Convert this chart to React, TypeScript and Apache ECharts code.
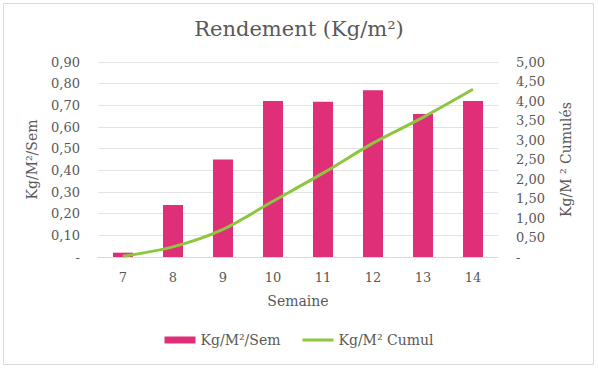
import React, { useEffect, useRef } from "react";
import * as echarts from "echarts";

const weeks = ["7", "8", "9", "10", "11", "12", "13", "14"];
const weekly = [0.02, 0.24, 0.45, 0.72, 0.717, 0.77, 0.66, 0.72];
const cumul = [0.02, 0.26, 0.71, 1.43, 2.15, 2.92, 3.58, 4.3];

const FONT = "'DejaVu Serif', Georgia, serif";
const TXT = "#595959";

const fmt = (v: number) => (v === 0 ? "-" : v.toFixed(2).replace(".", ","));

export default function App() {
  const ref = useRef<HTMLDivElement>(null);
  useEffect(() => {
    const chart = echarts.init(ref.current!, null, { renderer: "svg" });
    chart.setOption({
      animation: false,
      backgroundColor: "#ffffff",
      textStyle: { fontFamily: FONT, color: TXT },
      title: {
        text: "Rendement (Kg/m²)",
        left: "center",
        top: 13,
        textStyle: { fontFamily: FONT, fontSize: 21, fontWeight: "normal", color: TXT },
      },
      graphic: [
        {
          type: "rect",
          shape: { x: 3.5, y: 3.5, width: 590, height: 361 },
          style: { fill: "none", stroke: "#d9d9d9", lineWidth: 1 },
          silent: true,
        },
      ],
      grid: { left: 98, right: 100, top: 62, bottom: 112 },
      legend: {
        bottom: 17,
        left: "center",
        itemWidth: 31,
        itemHeight: 7,
        itemGap: 22,
        textStyle: { fontFamily: FONT, fontSize: 14, color: TXT },
        data: [
          { name: "Kg/M²/Sem", icon: "rect" },
          { name: "Kg/M² Cumul", icon: "path://M0,0H31V3H0Z" },
        ],
      },
      xAxis: {
        type: "category",
        data: weeks,
        name: "Semaine",
        nameLocation: "middle",
        nameGap: 37,
        nameTextStyle: { fontFamily: FONT, fontSize: 14, color: TXT },
        axisLine: { lineStyle: { color: "#d9d9d9" } },
        axisTick: { show: false },
        axisLabel: { fontFamily: FONT, fontSize: 13, color: TXT, margin: 14 },
      },
      yAxis: [
        {
          type: "value",
          min: 0,
          max: 0.9,
          interval: 0.1,
          name: "Kg/M²/Sem",
          nameLocation: "middle",
          nameGap: 59,
          nameTextStyle: { fontFamily: FONT, fontSize: 14, color: TXT },
          axisLine: { show: false },
          axisTick: { show: false },
          splitLine: { lineStyle: { color: "#e3e3e3" } },
          axisLabel: { fontFamily: FONT, fontSize: 13, color: TXT, margin: 18, formatter: fmt },
        },
        {
          type: "value",
          min: 0,
          max: 5,
          interval: 0.5,
          name: "Kg/M ² Cumulés",
          nameLocation: "middle",
          nameGap: 61,
          nameTextStyle: { fontFamily: FONT, fontSize: 14, color: TXT },
          axisLine: { show: false },
          axisTick: { show: false },
          splitLine: { show: false },
          axisLabel: { fontFamily: FONT, fontSize: 13, color: TXT, margin: 18, formatter: fmt },
        },
      ],
      series: [
        {
          name: "Kg/M²/Sem",
          type: "bar",
          yAxisIndex: 0,
          data: weekly,
          barWidth: 20,
          itemStyle: { color: "#DE2F78" },
        },
        {
          name: "Kg/M² Cumul",
          type: "line",
          yAxisIndex: 1,
          data: cumul,
          smooth: 0.3,
          symbol: "none",
          lineStyle: { color: "#8DC63F", width: 3 },
          itemStyle: { color: "#8DC63F" },
        },
      ],
    });
    return () => chart.dispose();
  }, []);
  return (
    <div
      ref={ref}
      style={{ position: "fixed", left: 0, top: 0, width: 598, height: 369 }}
    />
  );
}
